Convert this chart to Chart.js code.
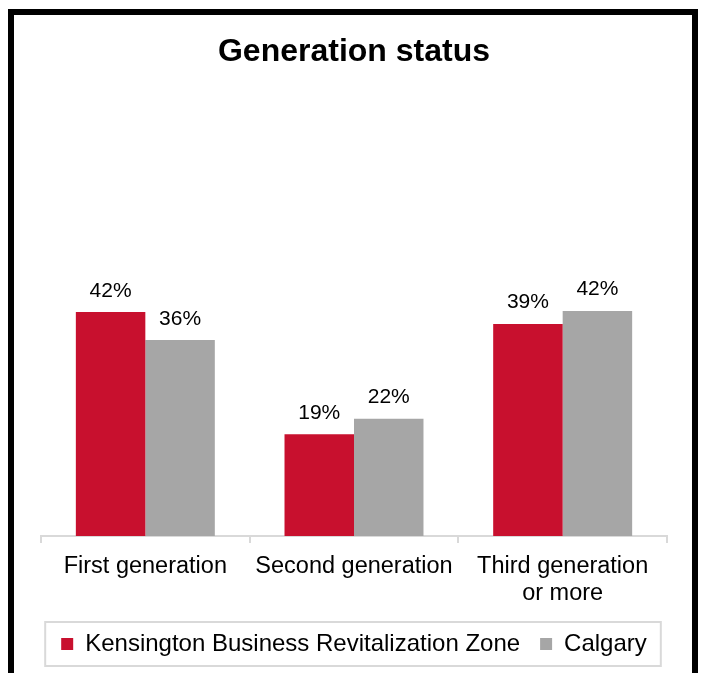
<!DOCTYPE html>
<html>
<head>
<meta charset="utf-8">
<script src="https://cdn.jsdelivr.net/npm/chart.js@4/dist/chart.umd.min.js"></script>
<style>
  html, body { margin: 0; padding: 0; background: #ffffff; }
  #wrap { position: relative; width: 701px; height: 673px; overflow: hidden; }
  #c { position: absolute; left: 0; top: 0; }
  #frame {
    position: absolute; left: 8px; top: 9px; width: 690px; height: 720px;
    box-sizing: border-box; border: 6px solid #000; border-bottom: none;
    pointer-events: none;
  }
</style>
</head>
<body>
<div id="wrap">
  <canvas id="c" width="701" height="673"></canvas>
  <div id="frame"></div>
</div>
<script>
const chartTitle = 'Generation status';
const categories = ['First generation', 'Second generation', ['Third generation', 'or more']];
const seriesNames = ['Kensington Business Revitalization Zone', 'Calgary'];
const kensington = [0.416, 0.189, 0.394];
const calgary = [0.364, 0.218, 0.418];
const seriesColors = ['#C8102E', '#A6A6A6'];

const FONT = '"Liberation Sans", Arial, Helvetica, sans-serif';

const dataLabelPlugin = {
  id: 'dataLabels',
  afterDatasetsDraw(chart) {
    const ctx = chart.ctx;
    ctx.save();
    ctx.font = '21px ' + FONT;
    ctx.fillStyle = '#000000';
    ctx.textAlign = 'center';
    ctx.textBaseline = 'alphabetic';
    chart.data.datasets.forEach((ds, i) => {
      const meta = chart.getDatasetMeta(i);
      meta.data.forEach((bar, j) => {
        const v = ds.data[j];
        ctx.fillText(Math.round(v * 100) + '%', bar.x, bar.y - 15.5);
      });
    });
    ctx.restore();
  }
};

const legendBoxPlugin = {
  id: 'legendBox',
  afterDraw(chart) {
    const lg = chart.legend;
    if (!lg || !lg.legendHitBoxes || !lg.legendHitBoxes.length) return;
    const hb = lg.legendHitBoxes;
    const first = hb[0], last = hb[hb.length - 1];
    const cy = first.top + first.height / 2;
    const left = first.left - 16;
    const right = last.left + last.width + 14;
    const ctx = chart.ctx;
    ctx.save();
    ctx.strokeStyle = '#d9d9d9';
    ctx.lineWidth = 2;
    ctx.strokeRect(left, cy - 22, right - left, 44);
    ctx.restore();
  }
};

new Chart(document.getElementById('c'), {
  type: 'bar',
  data: {
    labels: categories,
    datasets: [
      { label: seriesNames[0], data: kensington, backgroundColor: seriesColors[0], borderWidth: 0 },
      { label: seriesNames[1], data: calgary, backgroundColor: seriesColors[1], borderWidth: 0 }
    ]
  },
  options: {
    responsive: false,
    animation: false,
    devicePixelRatio: 1,
    categoryPercentage: 0.666,
    barPercentage: 1.0,
    layout: { padding: { left: 41, right: 34, top: 14, bottom: 7 } },
    plugins: {
      title: {
        display: true,
        text: chartTitle,
        color: '#000000',
        font: { family: FONT, size: 32, weight: 'bold', lineHeight: 1.2 },
        padding: { top: 19, bottom: 34 }
      },
      legend: {
        display: true,
        position: 'bottom',
        labels: {
          color: '#000000',
          font: { family: FONT, size: 24 },
          boxWidth: 12,
          boxHeight: 12,
          padding: 20
        }
      },
      tooltip: { enabled: false }
    },
    scales: {
      x: {
        grid: {
          display: true,
          drawOnChartArea: false,
          drawTicks: true,
          tickLength: 7,
          color: '#d9d9d9',
          lineWidth: 2
        },
        border: { display: true, color: '#d9d9d9', width: 2 },
        ticks: {
          color: '#000000',
          font: { family: FONT, size: 23.5, lineHeight: 1.15 },
          padding: 10,
          maxRotation: 0,
          autoSkip: false
        },
        afterFit(scale) { scale.height -= 5; }
      },
      y: {
        display: false,
        min: 0,
        max: 0.8
      }
    }
  },
  plugins: [dataLabelPlugin, legendBoxPlugin]
});
</script>
</body>
</html>
